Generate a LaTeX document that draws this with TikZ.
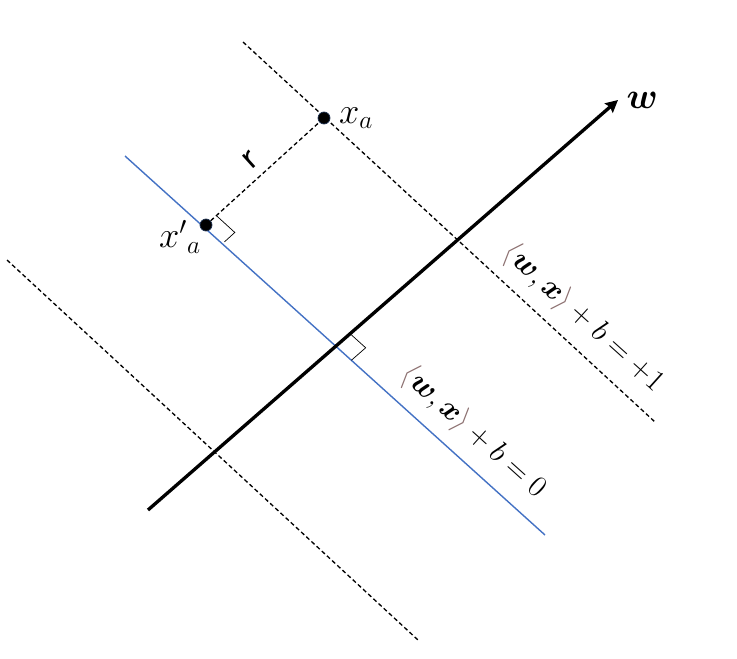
\documentclass[tikz,border=0pt]{standalone}
\usepackage{amsmath,bm}
\usetikzlibrary{positioning, calc, arrows.meta}
\definecolor{planeblue}{RGB}{68,114,196}
\definecolor{brk}{RGB}{140,112,112}
\tikzset{
  margin/.style={
    line width=0.75pt,
    dash pattern=on 2.4pt off 1.6pt,
  },
  plane/.style={
    line width=0.8pt, draw=planeblue,
  },
  normal/.style={
    line width=1.9pt,
    -{Stealth[length=7pt, width=7pt, inset=1pt]},
  },
  pt/.style={
    circle, inner sep=0pt, minimum size=0.24cm,
    fill=black, draw=planeblue!40!black,
  },
  rmark/.style={line width=0.4pt},
  lbl/.style={font=\fontsize{18}{20}\selectfont},
  ptlbl/.style={font=\fontsize{22}{24}\selectfont},
}
\newcommand{\ip}{{\color{brk}\langle}\bm{w},\bm{x}{\color{brk}\rangle}}

\begin{document}
\begin{tikzpicture}[x=0.02cm, y=-0.02cm]
\useasboundingbox (0,0) rectangle (737,659);
% lines
\coordinate (u0) at (243,42);
\coordinate (u1) at (655,422);
\coordinate (l0) at (7,260);
\coordinate (l1) at (418,640);
\coordinate (b0) at (125,156);
\coordinate (b1) at (545,535);
\coordinate (w0) at (148,510);
\coordinate (w1) at (618,100);
\draw[margin] (u0) -- (u1);
\draw[margin] (l0) -- (l1);
\draw[plane] (b0) -- (b1);
\draw[normal] (w0) -- (w1);

% points
\node[pt] (xa) at (324,118) {};
\node[pt] (xp) at (206,225) {};
\draw[margin] (xp) -- (xa);

% right angles
\coordinate (m1) at ($(xp)!0.28cm!(xa)$);
\coordinate (m2) at ($(xp)!0.5cm!(b1)$);
\draw[rmark] (m1) -- ($(m1)+(m2)-(xp)$) -- (m2);
\coordinate (o) at (intersection of b0--b1 and w0--w1);
\coordinate (m3) at ($(o)!0.38cm!(w1)$);
\coordinate (m4) at ($(o)!0.42cm!(b1)$);
\draw[rmark] (m3) -- ($(m3)+(m4)-(o)$) -- (m4);

% labels
\node[ptlbl, right=0.5mm of xa] (xalbl) {$x_a$};
\node[ptlbl] (xplbl) at (180,237) {${x'}_a$};
\node[ptlbl, right=0.5mm of w1] (wlbl) {$\bm{w}$};
\node[ptlbl, rotate=42] (rlbl) at (250,160) {\sffamily r};
\node[lbl, rotate=-42] (one) at (583,318) {$\ip + b = +1$};
\node[lbl, rotate=-42] (zero) at (473,432) {$\ip + b = 0$};
\end{tikzpicture}
\end{document}
